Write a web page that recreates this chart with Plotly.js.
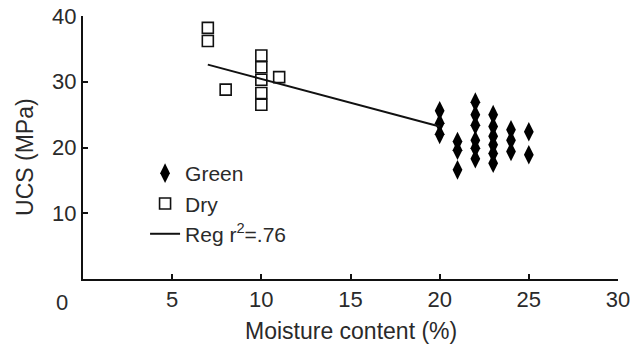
<!DOCTYPE html>
<html>
<head>
<meta charset="utf-8">
<script src="https://cdn.plot.ly/plotly-3.0.1.min.js"></script>
<style>html,body{margin:0;padding:0;background:#fff;}#chart{width:633px;height:356px;}</style>
</head>
<body>
<div id="chart"></div>
<script>
// Green samples
var greenX = [20,20,20, 21,21,21, 22,22,22,22,22,22, 23,23,23,23,23,23, 24,24,24, 25,25];
var greenY = [25.6,23.7,22.0, 20.9,19.6,16.6, 26.9,25.0,23.4,21.1,19.9,18.3, 25.0,23.2,21.7,20.4,19.1,17.6, 22.7,21.1,19.4, 22.4,18.9];
// Dry samples
var dryX = [7,7,8,10,10,10,10,10,11];
var dryY = [38.2,36.2,28.8,34.0,32.2,30.3,28.3,26.5,30.7];
// Regression line end points
var regX = [7,20];
var regY = [32.6,23.2];
var xTicks = [5,10,15,20,25,30];
var yTicks = [10,20,30,40];

var FONT = 'Liberation Sans, Arial, Helvetica, sans-serif';
var TXT = '#2a2a2a';

var traces = [
  {x: greenX, y: greenY, type: 'scatter', mode: 'markers', name: 'Green',
   marker: {symbol: 'diamond-tall', size: 14, color: '#000'}},
  {x: dryX, y: dryY, type: 'scatter', mode: 'markers', name: 'Dry',
   marker: {symbol: 'square-open', size: 11, color: '#111', line: {width: 1.6, color: '#111'}}},
  {x: regX, y: regY, type: 'scatter', mode: 'lines', name: 'Reg r<sup>2</sup>=.76',
   line: {color: '#111', width: 2}}
];

var layout = {
  width: 633, height: 356,
  margin: {l: 83, r: 15, t: 16, b: 77},
  paper_bgcolor: '#fff', plot_bgcolor: '#fff',
  font: {family: FONT, color: TXT, size: 22},
  showlegend: true,
  legend: {x: 0.116, y: 0.479, xanchor: 'left', yanchor: 'top', bgcolor: 'rgba(0,0,0,0)',
           font: {family: FONT, size: 21, color: TXT}, borderwidth: 0, tracegroupgap: 0},
  xaxis: {range: [0, 30], tickvals: xTicks, ticktext: xTicks.map(String),
          ticks: 'inside', ticklen: 5, tickwidth: 2, tickcolor: '#111',
          showline: true, linecolor: '#111', linewidth: 2, showgrid: false, zeroline: false,
          tickfont: {family: FONT, size: 22, color: TXT}, fixedrange: true},
  yaxis: {range: [0, 40], tickvals: yTicks, ticktext: yTicks.map(String),
          ticks: 'inside', ticklen: 5, tickwidth: 2, tickcolor: '#111',
          showline: true, linecolor: '#111', linewidth: 2, showgrid: false, zeroline: false,
          tickfont: {family: FONT, size: 22, color: TXT}, fixedrange: true},
  annotations: [
    {text: 'Moisture content (%)', xref: 'paper', yref: 'paper', x: 0.5, y: 0,
     xanchor: 'center', yanchor: 'middle', yshift: -52, showarrow: false,
     font: {family: FONT, size: 23, color: TXT}},
    {text: 'UCS (MPa)', xref: 'paper', yref: 'paper', x: 0, y: 0.464, textangle: -90,
     xanchor: 'center', yanchor: 'middle', xshift: -58, showarrow: false,
     font: {family: FONT, size: 23, color: TXT}},
    {text: '0', xref: 'paper', yref: 'paper', x: 0, y: 0,
     xanchor: 'center', yanchor: 'middle', xshift: -21, yshift: -23, showarrow: false,
     font: {family: FONT, size: 22, color: TXT}}
  ]
};

Plotly.newPlot('chart', traces, layout, {displayModeBar: false, staticPlot: true});
</script>
</body>
</html>
